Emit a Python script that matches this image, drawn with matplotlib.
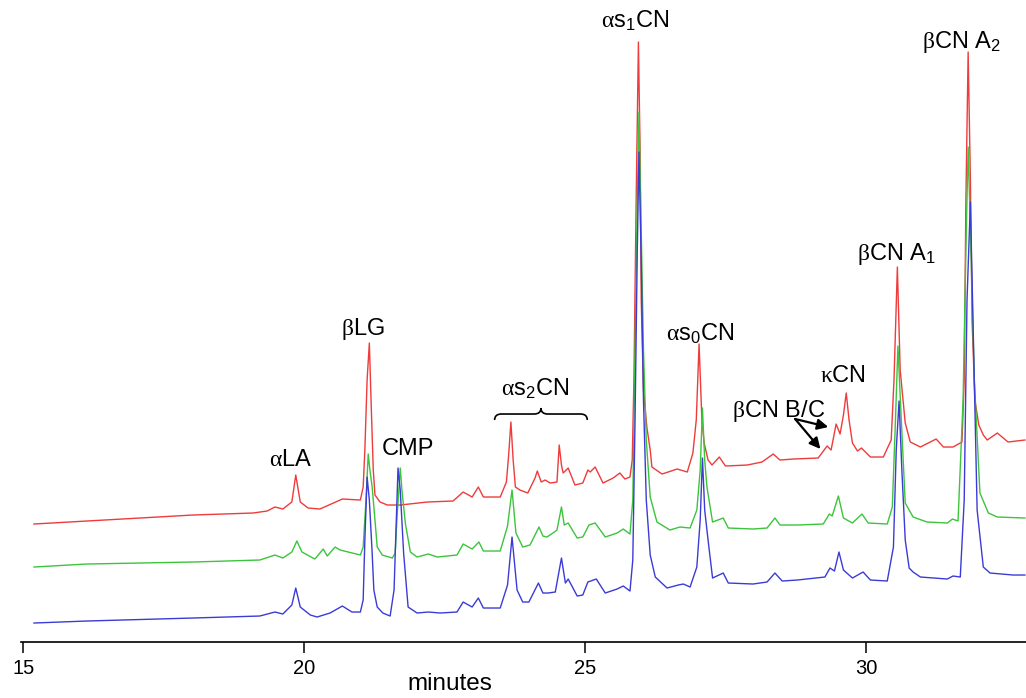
"""Reversed-phase HPLC chromatograms of milk proteins for three samples."""

import matplotlib

matplotlib.use("Agg")
import matplotlib.pyplot as plt
from matplotlib.patches import PathPatch
from matplotlib.path import Path

plt.rcParams["font.family"] = ["Liberation Sans", "DejaVu Sans"]
# Greek letters are drawn in a serif face, as in the original figure
plt.rcParams["mathtext.fontset"] = "custom"
plt.rcParams["mathtext.rm"] = "Liberation Serif"
plt.rcParams["mathtext.it"] = "Liberation Serif:italic"

# Retention time (minutes) and detector signal (arbitrary units) per sample
red_time = [15.19, 16.13, 18.02, 19.09, 19.34, 19.48, 19.62, 19.78, 19.85, 19.93,
            20.07, 20.28, 20.68, 21.00, 21.05, 21.08, 21.12, 21.16, 21.19, 21.23,
            21.26, 21.35, 21.48, 21.71, 22.19, 22.65, 22.83, 22.99, 23.10, 23.19,
            23.49, 23.60, 23.64, 23.68, 23.72, 23.76, 23.84, 23.98, 24.11, 24.15,
            24.22, 24.29, 24.38, 24.50, 24.54, 24.58, 24.61, 24.70, 24.82, 24.96,
            25.05, 25.09, 25.18, 25.32, 25.50, 25.62, 25.71, 25.80, 25.84, 25.87,
            25.91, 25.95, 25.98, 26.00, 26.04, 26.10, 26.16, 26.19, 26.37, 26.64,
            26.82, 26.92, 26.98, 27.03, 27.08, 27.12, 27.19, 27.26, 27.39, 27.50,
            27.89, 28.15, 28.35, 28.47, 28.71, 29.15, 29.31, 29.38, 29.47, 29.54,
            29.60, 29.65, 29.70, 29.76, 29.85, 29.92, 30.08, 30.31, 30.45, 30.50,
            30.56, 30.61, 30.70, 30.79, 30.97, 31.25, 31.38, 31.55, 31.71, 31.75,
            31.78, 31.82, 31.86, 31.89, 31.94, 32.01, 32.09, 32.16, 32.34, 32.53,
            32.83]
red_signal = [118, 121, 127, 129, 131, 135, 133, 140, 167, 140,
              134, 133, 143, 142, 155, 192, 262, 299, 242, 172,
              147, 140, 137, 137, 140, 141, 150, 145, 155, 145,
              145, 160, 187, 220, 182, 155, 152, 149, 164, 171,
              160, 162, 159, 160, 197, 177, 169, 174, 157, 159,
              172, 170, 175, 159, 164, 169, 163, 165, 182, 262,
              442, 600, 492, 342, 252, 215, 192, 175, 168, 173,
              170, 189, 222, 298, 222, 199, 182, 177, 185, 176,
              177, 180, 188, 182, 183, 184, 196, 192, 218, 208,
              227, 249, 222, 199, 191, 194, 185, 185, 202, 262,
              375, 272, 219, 200, 195, 203, 195, 195, 200, 262,
              442, 590, 462, 322, 242, 217, 207, 202, 209, 200,
              202]

green_time = [15.19, 16.13, 18.02, 19.21, 19.48, 19.62, 19.78, 19.87, 19.96, 20.19,
              20.34, 20.41, 20.55, 20.64, 21.00, 21.05, 21.10, 21.14, 21.17, 21.21,
              21.26, 21.30, 21.39, 21.57, 21.62, 21.65, 21.71, 21.74, 21.80, 21.89,
              22.01, 22.21, 22.37, 22.72, 22.83, 22.99, 23.11, 23.19, 23.49, 23.62,
              23.70, 23.77, 23.89, 24.02, 24.18, 24.25, 24.32, 24.43, 24.50, 24.58,
              24.63, 24.70, 24.86, 24.96, 25.07, 25.18, 25.36, 25.57, 25.68, 25.80,
              25.85, 25.89, 25.93, 25.96, 26.00, 26.04, 26.09, 26.16, 26.28, 26.51,
              26.69, 26.87, 26.99, 27.05, 27.09, 27.13, 27.17, 27.27, 27.46, 27.55,
              27.99, 28.24, 28.38, 28.47, 28.78, 29.24, 29.35, 29.40, 29.51, 29.60,
              29.76, 29.93, 30.04, 30.38, 30.47, 30.52, 30.57, 30.63, 30.70, 30.84,
              31.09, 31.45, 31.54, 31.64, 31.73, 31.78, 31.82, 31.87, 31.93, 32.03,
              32.18, 32.34, 32.83]
green_signal = [75, 78, 80, 82, 87, 84, 90, 101, 90, 83,
                93, 86, 95, 92, 87, 95, 142, 188, 172, 155,
                122, 95, 87, 84, 89, 122, 174, 152, 119, 90,
                85, 88, 85, 87, 98, 93, 100, 91, 91, 116,
                152, 109, 95, 97, 115, 106, 105, 109, 112, 135,
                117, 119, 104, 105, 117, 119, 105, 109, 113, 108,
                142, 292, 442, 530, 412, 292, 202, 145, 120, 112,
                115, 114, 132, 172, 234, 182, 155, 120, 124, 114,
                113, 114, 124, 117, 117, 118, 128, 126, 146, 124,
                119, 128, 119, 118, 135, 212, 296, 222, 139, 125,
                120, 119, 123, 121, 242, 392, 495, 392, 262, 149,
                129, 125, 124]

blue_time = [15.19, 16.13, 18.02, 19.21, 19.48, 19.62, 19.78, 19.85, 19.93, 20.11,
             20.23, 20.46, 20.68, 20.85, 21.00, 21.05, 21.08, 21.12, 21.16, 21.21,
             21.24, 21.30, 21.40, 21.53, 21.60, 21.64, 21.67, 21.71, 21.77, 21.85,
             22.01, 22.21, 22.42, 22.72, 22.83, 22.99, 23.10, 23.19, 23.49, 23.62,
             23.70, 23.79, 23.89, 24.00, 24.17, 24.25, 24.34, 24.47, 24.58, 24.65,
             24.70, 24.86, 24.96, 25.05, 25.20, 25.36, 25.57, 25.68, 25.80, 25.85,
             25.89, 25.93, 25.96, 26.00, 26.04, 26.09, 26.16, 26.25, 26.46, 26.66,
             26.75, 26.87, 26.99, 27.05, 27.09, 27.13, 27.19, 27.27, 27.46, 27.55,
             27.99, 28.24, 28.38, 28.51, 28.78, 29.27, 29.36, 29.44, 29.52, 29.60,
             29.76, 29.95, 30.08, 30.38, 30.49, 30.54, 30.59, 30.64, 30.70, 30.77,
             30.84, 30.97, 31.45, 31.55, 31.68, 31.75, 31.80, 31.86, 31.91, 31.98,
             32.09, 32.21, 32.62, 32.83]
blue_signal = [19, 21, 24, 26, 30, 28, 37, 54, 35, 27,
               25, 29, 36, 30, 30, 42, 102, 165, 142, 89,
               52, 35, 29, 26, 52, 122, 174, 152, 89, 35,
               29, 30, 29, 30, 40, 35, 44, 34, 34, 57,
               105, 52, 40, 40, 59, 49, 49, 50, 84, 59,
               63, 46, 47, 60, 63, 49, 53, 56, 51, 82,
               222, 392, 490, 382, 242, 142, 87, 65, 54, 57,
               58, 55, 75, 122, 184, 132, 102, 64, 69, 59,
               58, 60, 69, 61, 62, 65, 74, 71, 90, 72,
               64, 70, 62, 61, 95, 192, 241, 172, 102, 74,
               70, 65, 63, 66, 65, 142, 342, 440, 312, 132,
               75, 69, 67, 67]

# Peak labels: (text, retention time, signal at text baseline)
peak_labels = [
    (r"$\mathrm{\alpha}$LA", 19.75, 176),
    (r"$\mathrm{\beta}$LG", 21.04, 307),
    ("CMP", 21.85, 187),
    (r"$\mathrm{\alpha}\mathregular{s_2}$CN", 24.11, 247),
    (r"$\mathrm{\alpha}\mathregular{s_1}$CN", 25.89, 615),
    (r"$\mathrm{\alpha}\mathregular{s_0}$CN", 27.05, 302),
    (r"$\mathrm{\beta}$CN B/C", 28.44, 225),
    (r"$\mathrm{\kappa}$CN", 29.59, 260),
    (r"$\mathrm{\beta}$CN A$\mathregular{_1}$", 30.54, 382),
    (r"$\mathrm{\beta}$CN A$\mathregular{_2}$", 31.71, 594),
]

_COLOURS = {"red": "#ef3b3b", "green": "#3cc43c", "blue": "#3b3bd6"}


def _brace(ax, x0, x1, y_end, y_flat, y_tip, dx):
    """Horizontal curly brace opening downwards."""
    xm = (x0 + x1) / 2
    verts = [
        (x0, y_end), (x0, y_flat), (x0 + dx, y_flat),
        (xm - dx, y_flat),
        (xm, y_flat), (xm, y_tip),
        (xm, y_flat), (xm + dx, y_flat),
        (x1 - dx, y_flat),
        (x1, y_flat), (x1, y_end),
    ]
    codes = [Path.MOVETO, Path.CURVE3, Path.CURVE3,
             Path.LINETO,
             Path.CURVE3, Path.CURVE3,
             Path.CURVE3, Path.CURVE3,
             Path.LINETO,
             Path.CURVE3, Path.CURVE3]
    ax.add_patch(PathPatch(Path(verts, codes), fill=False, lw=1.2,
                           edgecolor="black", clip_on=False))


fig = plt.figure(figsize=(10.26, 6.98), dpi=100)
ax = fig.add_axes([0.02, 0.0802, 0.98, 0.9198])

ax.plot(red_time, red_signal, color=_COLOURS["red"], lw=1.0)
ax.plot(green_time, green_signal, color=_COLOURS["green"], lw=1.0)
ax.plot(blue_time, blue_signal, color=_COLOURS["blue"], lw=1.0)

for text, t, s in peak_labels:
    ax.text(t, s, text, ha="center", va="baseline", fontsize=17)

_brace(ax, 23.39, 25.04, 222, 228, 234, 0.12)

for tip in [(29.33, 215), (29.19, 193)]:
    ax.annotate("", xy=tip, xytext=(28.74, 223),
                arrowprops=dict(arrowstyle="-|>", color="black", lw=1.6,
                                mutation_scale=16, shrinkA=0, shrinkB=0))

ax.set_xlim(14.95, 32.85)
ax.set_ylim(0, 642)
ax.set_xticks([15, 20, 25, 30])
ax.set_yticks([])
for side in ["top", "left", "right"]:
    ax.spines[side].set_visible(False)
ax.spines["bottom"].set_linewidth(1.2)
ax.tick_params(axis="x", length=8, width=1.1, pad=4, labelsize=14.5)
ax.set_xlabel("minutes", fontsize=17.5)
ax.xaxis.set_label_coords(0.4266, -0.048)
ax.patch.set_alpha(0)

fig.savefig("out.png", dpi=100)
plt.close(fig)
